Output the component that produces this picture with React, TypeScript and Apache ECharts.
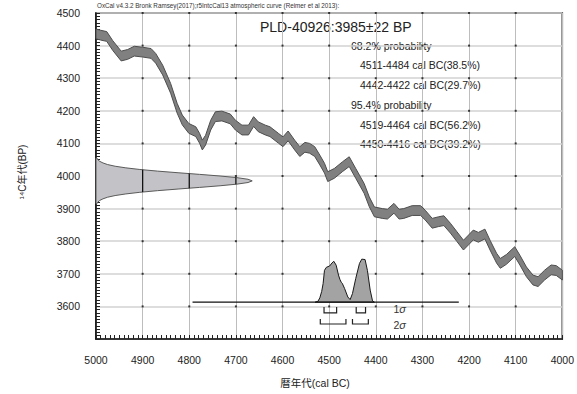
import React, { useEffect, useRef } from "react";
import * as echarts from "echarts";

// ---- axis ticks ----
const xTicks = [5000, 4900, 4800, 4700, 4600, 4500, 4400, 4300, 4200, 4100, 4000];
const yTicks = [3600, 3700, 3800, 3900, 4000, 4100, 4200, 4300, 4400, 4500];

// ---- IntCal13 calibration curve (cal BC, 14C BP centre) ----
const curveYears = [5000, 4990, 4977, 4964, 4946, 4932, 4918, 4900, 4882, 4872, 4857, 4840, 4826, 4815, 4801, 4786, 4778, 4772, 4765, 4754, 4744, 4730, 4712, 4701, 4687, 4673, 4662, 4652, 4637, 4627, 4609, 4599, 4588, 4574, 4563, 4552, 4542, 4531, 4520, 4510, 4503, 4489, 4471, 4457, 4443, 4425, 4414, 4403, 4386, 4375, 4361, 4350, 4340, 4322, 4304, 4294, 4279, 4265, 4254, 4240, 4226, 4212, 4201, 4191, 4180, 4166, 4155, 4141, 4133, 4120, 4102, 4091, 4077, 4063, 4052, 4038, 4024, 4013, 4000];
const curveBP = [4436, 4432, 4428, 4400, 4368, 4373, 4383, 4380, 4376, 4361, 4325, 4269, 4208, 4172, 4146, 4136, 4116, 4095, 4110, 4156, 4182, 4184, 4175, 4156, 4141, 4141, 4167, 4151, 4141, 4136, 4116, 4105, 4123, 4095, 4075, 4088, 4085, 4075, 4049, 4024, 3998, 4008, 4029, 4044, 4008, 3962, 3921, 3890, 3885, 3883, 3901, 3883, 3885, 3894, 3894, 3880, 3855, 3860, 3863, 3840, 3814, 3788, 3804, 3819, 3812, 3822, 3788, 3748, 3732, 3744, 3768, 3742, 3706, 3681, 3676, 3696, 3712, 3710, 3696];
const curveHalfWidth = 15;

// ---- radiocarbon date distribution (14C BP, extent in years from the axis) ----
const dateBP = [3915, 3920, 3925, 3930, 3935, 3940, 3945, 3950, 3955, 3960, 3965, 3970, 3975, 3980, 3985, 3990, 3995, 4000, 4005, 4010, 4015, 4020, 4025, 4030, 4035, 4040, 4045, 4050, 4055];
const dateExtent = [2, 4, 8, 15, 25, 41, 64, 94, 132, 176, 222, 266, 302, 326, 335, 326, 302, 266, 222, 176, 132, 94, 64, 41, 25, 15, 8, 4, 2];

// ---- calibrated distribution (cal BC, relative probability) ----
const calYears = [4530, 4524, 4520, 4516, 4513, 4510, 4506, 4499, 4494, 4490, 4485, 4480, 4477, 4474, 4472, 4467, 4460, 4455, 4450, 4443, 4435, 4430, 4423, 4418, 4412, 4407, 4403];
const calProb = [0, 0.02, 0.1, 0.25, 0.43, 0.74, 0.81, 0.84, 0.91, 0.95, 0.86, 0.63, 0.53, 0.46, 0.44, 0.32, 0.12, 0.06, 0.2, 0.55, 0.9, 1.0, 0.99, 0.74, 0.28, 0.03, 0];
const calBaseBP = 3613;
const calPeakBP = 132;
const calLine = [4793, 4222];

// ---- probability ranges ----
const sigma1Ranges = [[4511, 4484], [4442, 4422]];
const sigma2Ranges = [[4519, 4464], [4450, 4416]];
const sigma1BP = [3598, 3580];
const sigma2BP = [3561, 3546];
const sigmaLabelYear = 4362;
const sigmaLabelBP = [3593, 3544];

const titleText = "OxCal v4.3.2 Bronk Ramsey(2017);r5IntcCal13 atmospheric curve (Reimer et al 2013):";
const sampleText = "PLD-40926:3985±22 BP";
const rangeTexts = [
  "68.2% probability",
  "4511-4484 cal BC(38.5%)",
  "4442-4422 cal BC(29.7%)",
  "95.4% probability",
  "4519-4464 cal BC(56.2%)",
  "4450-4416 cal BC(39.2%)",
];

const FONT = "'Liberation Sans', Arial, 'Noto Sans CJK JP', sans-serif";

function dateRangeFor(extent: number): [number, number] | null {
  let lo: number | null = null;
  let hi: number | null = null;
  for (let i = 1; i < dateBP.length; i++) {
    const a = dateExtent[i - 1], b = dateExtent[i];
    if (a < extent && b >= extent) {
      lo = dateBP[i - 1] + ((extent - a) / (b - a)) * (dateBP[i] - dateBP[i - 1]);
    }
    if (a >= extent && b < extent) {
      hi = dateBP[i - 1] + ((a - extent) / (a - b)) * (dateBP[i] - dateBP[i - 1]);
    }
  }
  if (lo === null || hi === null) return null;
  return [lo, hi];
}

export default function App() {
  const ref = useRef<HTMLDivElement>(null);
  useEffect(() => {
    if (!ref.current) return;
    const chart = echarts.init(ref.current, null, { renderer: "svg" });

    const xMin = xTicks[xTicks.length - 1];
    const xMax = xTicks[0];

    const dots: number[][] = [];
    xTicks.slice(1, -1).forEach((x) => yTicks.forEach((y) => dots.push([x, y])));

    const renderAll = (params: any, api: any) => {
      const children: any[] = [];
      // radiocarbon date gaussian
      const gPts = dateBP.map((bp, i) => api.coord([xMax - dateExtent[i], bp]));
      gPts.push(api.coord([xMax, dateBP[dateBP.length - 1]]));
      gPts.unshift(api.coord([xMax, dateBP[0]]));
      children.push({
        type: "polygon",
        shape: { points: gPts },
        style: { fill: "#c3c3c7", stroke: "#5a5a5a", lineWidth: 1 },
      });
      xTicks.slice(1).forEach((g) => {
        const r = dateRangeFor(xMax - g);
        if (!r) return;
        const p1 = api.coord([g, r[0]]);
        const p2 = api.coord([g, r[1]]);
        children.push({
          type: "line",
          shape: { x1: p1[0], y1: p1[1], x2: p2[0], y2: p2[1] },
          style: { stroke: "#111", lineWidth: 1.3 },
        });
      });
      // calibration curve band
      const upper = curveYears.map((y, i) => api.coord([y, curveBP[i] + curveHalfWidth]));
      const lower = curveYears.map((y, i) => api.coord([y, curveBP[i] - curveHalfWidth])).reverse();
      children.push({
        type: "polygon",
        shape: { points: upper.concat(lower) },
        style: { fill: "#808080", stroke: "#4d4d4d", lineWidth: 1 },
      });
      // calibrated distribution
      const cPts = calYears.map((y, i) => api.coord([y, calBaseBP + calProb[i] * calPeakBP]));
      children.push({
        type: "polygon",
        shape: { points: cPts },
        style: { fill: "#a3a3a3", stroke: "#1a1a1a", lineWidth: 1 },
      });
      const b1 = api.coord([calLine[0], calBaseBP]);
      const b2 = api.coord([calLine[1], calBaseBP]);
      children.push({
        type: "line",
        shape: { x1: b1[0], y1: b1[1], x2: b2[0], y2: b2[1] },
        style: { stroke: "#111", lineWidth: 1.3 },
      });
      // brackets
      const bracket = (ranges: number[][], bp: number[]) => {
        ranges.forEach(([a, b]) => {
          const pts = [
            api.coord([a, bp[0]]),
            api.coord([a, bp[1]]),
            api.coord([b, bp[1]]),
            api.coord([b, bp[0]]),
          ];
          children.push({
            type: "polyline",
            shape: { points: pts },
            style: { stroke: "#222", lineWidth: 1.2, fill: "none" },
          });
        });
      };
      bracket(sigma1Ranges, sigma1BP);
      bracket(sigma2Ranges, sigma2BP);
      ["1", "2"].forEach((n, k) => {
        const p = api.coord([sigmaLabelYear, sigmaLabelBP[k]]);
        children.push({
          type: "text",
          x: p[0],
          y: p[1],
          style: {
            text: "{n|" + n + "}{s|σ}",
            verticalAlign: "middle",
            align: "left",
            rich: {
              n: { fontSize: 10.5, fontFamily: FONT, fill: "#333" },
              s: { fontSize: 11, fontFamily: FONT, fontStyle: "italic", fill: "#333" },
            },
          },
        });
      });
      return { type: "group", children };
    };

    const annoX = [351, 360, 360, 351, 360, 360];
    const annoY = [46, 65, 85, 105, 125, 144];

    chart.setOption({
      animation: false,
      backgroundColor: "#ffffff",
      textStyle: { fontFamily: FONT },
      grid: {
        left: 96,
        right: 11,
        top: 13,
        bottom: 55,
        show: true,
        borderColor: "#111",
        borderWidth: 1.5,
        backgroundColor: "transparent",
      },
      xAxis: {
        type: "value",
        min: xMin,
        max: xMax,
        interval: 100,
        inverse: true,
        axisLine: { show: true, lineStyle: { color: "#111", width: 1.5 } },
        axisTick: { show: true, inside: true, length: 4, lineStyle: { color: "#222", width: 1 } },
        minorTick: { show: true, splitNumber: 10, length: 4, lineStyle: { color: "#222", width: 1 } },
        axisLabel: {
          margin: 16,
          fontSize: 10.5,
          color: "#222",
          fontFamily: FONT,
          formatter: (v: number) => String(v),
        },
        splitLine: { show: true, lineStyle: { color: "#bdbdbd", width: 1 } },
      },
      yAxis: {
        type: "value",
        min: 3500,
        max: 4500,
        interval: 100,
        axisLine: { show: true, lineStyle: { color: "#111", width: 1.5 } },
        axisTick: { show: true, inside: true, length: 4, lineStyle: { color: "#222", width: 1 } },
        minorTick: { show: true, splitNumber: 10, length: 4, lineStyle: { color: "#222", width: 1 } },
        axisLabel: {
          margin: 16,
          fontSize: 10.5,
          color: "#222",
          fontFamily: FONT,
          formatter: (v: number) => (yTicks.includes(v) ? String(v) : ""),
        },
        splitLine: { show: true, lineStyle: { color: "#d2d2d2", width: 1.5 } },
      },
      series: [
        {
          type: "scatter",
          data: dots,
          symbolSize: 2,
          symbol: "rect",
          itemStyle: { color: "#111" },
          silent: true,
          z: 1,
        },
        {
          type: "custom",
          data: [[4500, 4000]],
          renderItem: renderAll,
          silent: true,
          z: 3,
        },
      ],
      graphic: [
        {
          type: "text",
          left: 97,
          top: 2,
          style: { text: titleText, fontSize: 6.3, fill: "#333", fontFamily: FONT },
        },
        {
          type: "text",
          x: 260,
          y: 27,
          style: { text: sampleText, fontSize: 14, fill: "#222", fontFamily: FONT, verticalAlign: "middle" },
        },
        ...rangeTexts.map((t, i) => ({
          type: "text",
          x: annoX[i],
          y: annoY[i],
          style: { text: t, fontSize: 10.5, fill: "#222", fontFamily: FONT, verticalAlign: "middle" },
        })),
        {
          type: "text",
          x: 22,
          y: 172,
          rotation: Math.PI / 2,
          style: {
            text: "¹⁴C年代(BP)",
            fontSize: 10,
            fill: "#222",
            fontFamily: FONT,
            align: "center",
            verticalAlign: "middle",
          },
        },
        {
          type: "text",
          x: 315,
          y: 383,
          style: {
            text: "暦年代(cal BC)",
            fontSize: 10.5,
            fill: "#222",
            fontFamily: FONT,
            align: "center",
            verticalAlign: "middle",
          },
        },
      ],
    });
    return () => chart.dispose();
  }, []);
  return (
    <div
      ref={ref}
      style={{ position: "fixed", left: 0, top: 0, width: 577, height: 394, background: "#fff" }}
    />
  );
}
